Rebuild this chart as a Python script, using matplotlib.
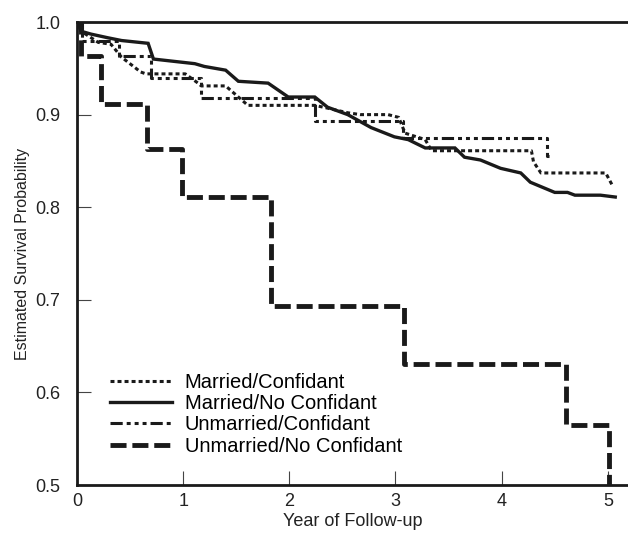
import matplotlib.pyplot as plt

plt.rcParams["font.family"] = ["Liberation Sans", "DejaVu Sans"]

# Married/Confidant (dotted)
mc_years = [0, 0.04, 0.2, 0.32, 0.42, 0.6, 0.65, 1.02, 1.14, 1.17, 1.40, 1.61, 2.24,
            2.36, 2.55, 2.67, 2.93, 3.03, 3.09, 3.28, 3.34, 4.28, 4.30, 4.37, 4.98, 5.05]
mc_surv = [1.0, 0.99, 0.978, 0.976, 0.962, 0.946, 0.944, 0.944, 0.934, 0.931, 0.931, 0.910, 0.910,
           0.907, 0.902, 0.900, 0.900, 0.897, 0.880, 0.873, 0.861, 0.861, 0.849, 0.837, 0.837, 0.822]

# Married/No Confidant (solid)
mn_years = [0, 0.04, 0.13, 0.29, 0.42, 0.67, 0.72, 1.11, 1.2, 1.40, 1.52, 1.80, 1.99, 2.24,
            2.36, 2.55, 2.77, 2.99, 3.12, 3.28, 3.56, 3.65, 3.80, 3.99, 4.18, 4.27, 4.50,
            4.62, 4.69, 4.93, 5.07]
mn_surv = [1.0, 0.99, 0.987, 0.983, 0.98, 0.977, 0.96, 0.955, 0.952, 0.948, 0.936, 0.934,
           0.919, 0.919, 0.908, 0.9, 0.886, 0.876, 0.873, 0.864, 0.864, 0.854, 0.851, 0.842,
           0.837, 0.827, 0.816, 0.816, 0.813, 0.813, 0.811]

# Unmarried/Confidant (dash-dot)
uc_years = [0, 0.05, 0.4, 0.7, 1.17, 2.24, 3.07, 4.43, 4.45]
uc_surv = [1.0, 0.98, 0.963, 0.94, 0.918, 0.893, 0.875, 0.855, 0.855]

# Unmarried/No Confidant (heavy dashed)
un_years = [0, 0.04, 0.23, 0.66, 0.99, 1.83, 3.08, 4.61, 5.01]
un_surv = [1.0, 0.963, 0.912, 0.863, 0.811, 0.693, 0.631, 0.565, 0.5]

fig = plt.figure(figsize=(6.28, 5.33), dpi=100)
ax = fig.add_axes([0.1226, 0.09, 0.8774, 0.8687])

ax.plot(mc_years, mc_surv, color="#1a1a1a", lw=2.2, dashes=(1.3, 1.0),
        dash_capstyle="butt", label="Married/Confidant")
ax.plot(mn_years, mn_surv, color="#1a1a1a", lw=2.4, solid_joinstyle="miter",
        label="Married/No Confidant")
ax.plot(uc_years, uc_surv, color="#1a1a1a", lw=2.2, drawstyle="steps-post",
        dashes=(4, 1.3, 1.3, 1.3, 1.3, 1.3, 1.3, 1.3), dash_capstyle="butt",
        label="Unmarried/Confidant")
ax.plot(un_years, un_surv, color="#1a1a1a", lw=3.5, drawstyle="steps-post",
        dashes=(3.3, 1.2), dash_capstyle="butt", label="Unmarried/No Confidant")

ax.set_xlim(0, 5.19)
ax.set_ylim(0.5, 1.0)
ax.set_xticks([0, 1, 2, 3, 4, 5])
ax.set_yticks([0.5, 0.6, 0.7, 0.8, 0.9, 1.0])
ax.set_yticklabels(["0.5", "0.6", "0.7", "0.8", "0.9", "1.0"])
ax.tick_params(direction="in", length=10, width=0.8, color="#444444",
               labelsize=13, colors="#222222")
ax.tick_params(axis="x", pad=6)
ax.tick_params(axis="y", pad=12)
ax.spines["right"].set_visible(False)
for s in ["left", "bottom", "top"]:
    ax.spines[s].set_linewidth(2)
    ax.spines[s].set_color("#1a1a1a")

ax.set_xlabel("Year of Follow-up", fontsize=13, color="#222222", labelpad=2)
ax.set_ylabel("Estimated Survival Probability", fontsize=11.5, color="#222222", labelpad=4)

ax.legend(loc="lower left", bbox_to_anchor=(0.06, 0.063), frameon=False,
          fontsize=14.5, handlelength=3.1, handletextpad=0.6, labelspacing=0.12,
          borderpad=0, borderaxespad=0)

fig.savefig("out.png", dpi=100)
